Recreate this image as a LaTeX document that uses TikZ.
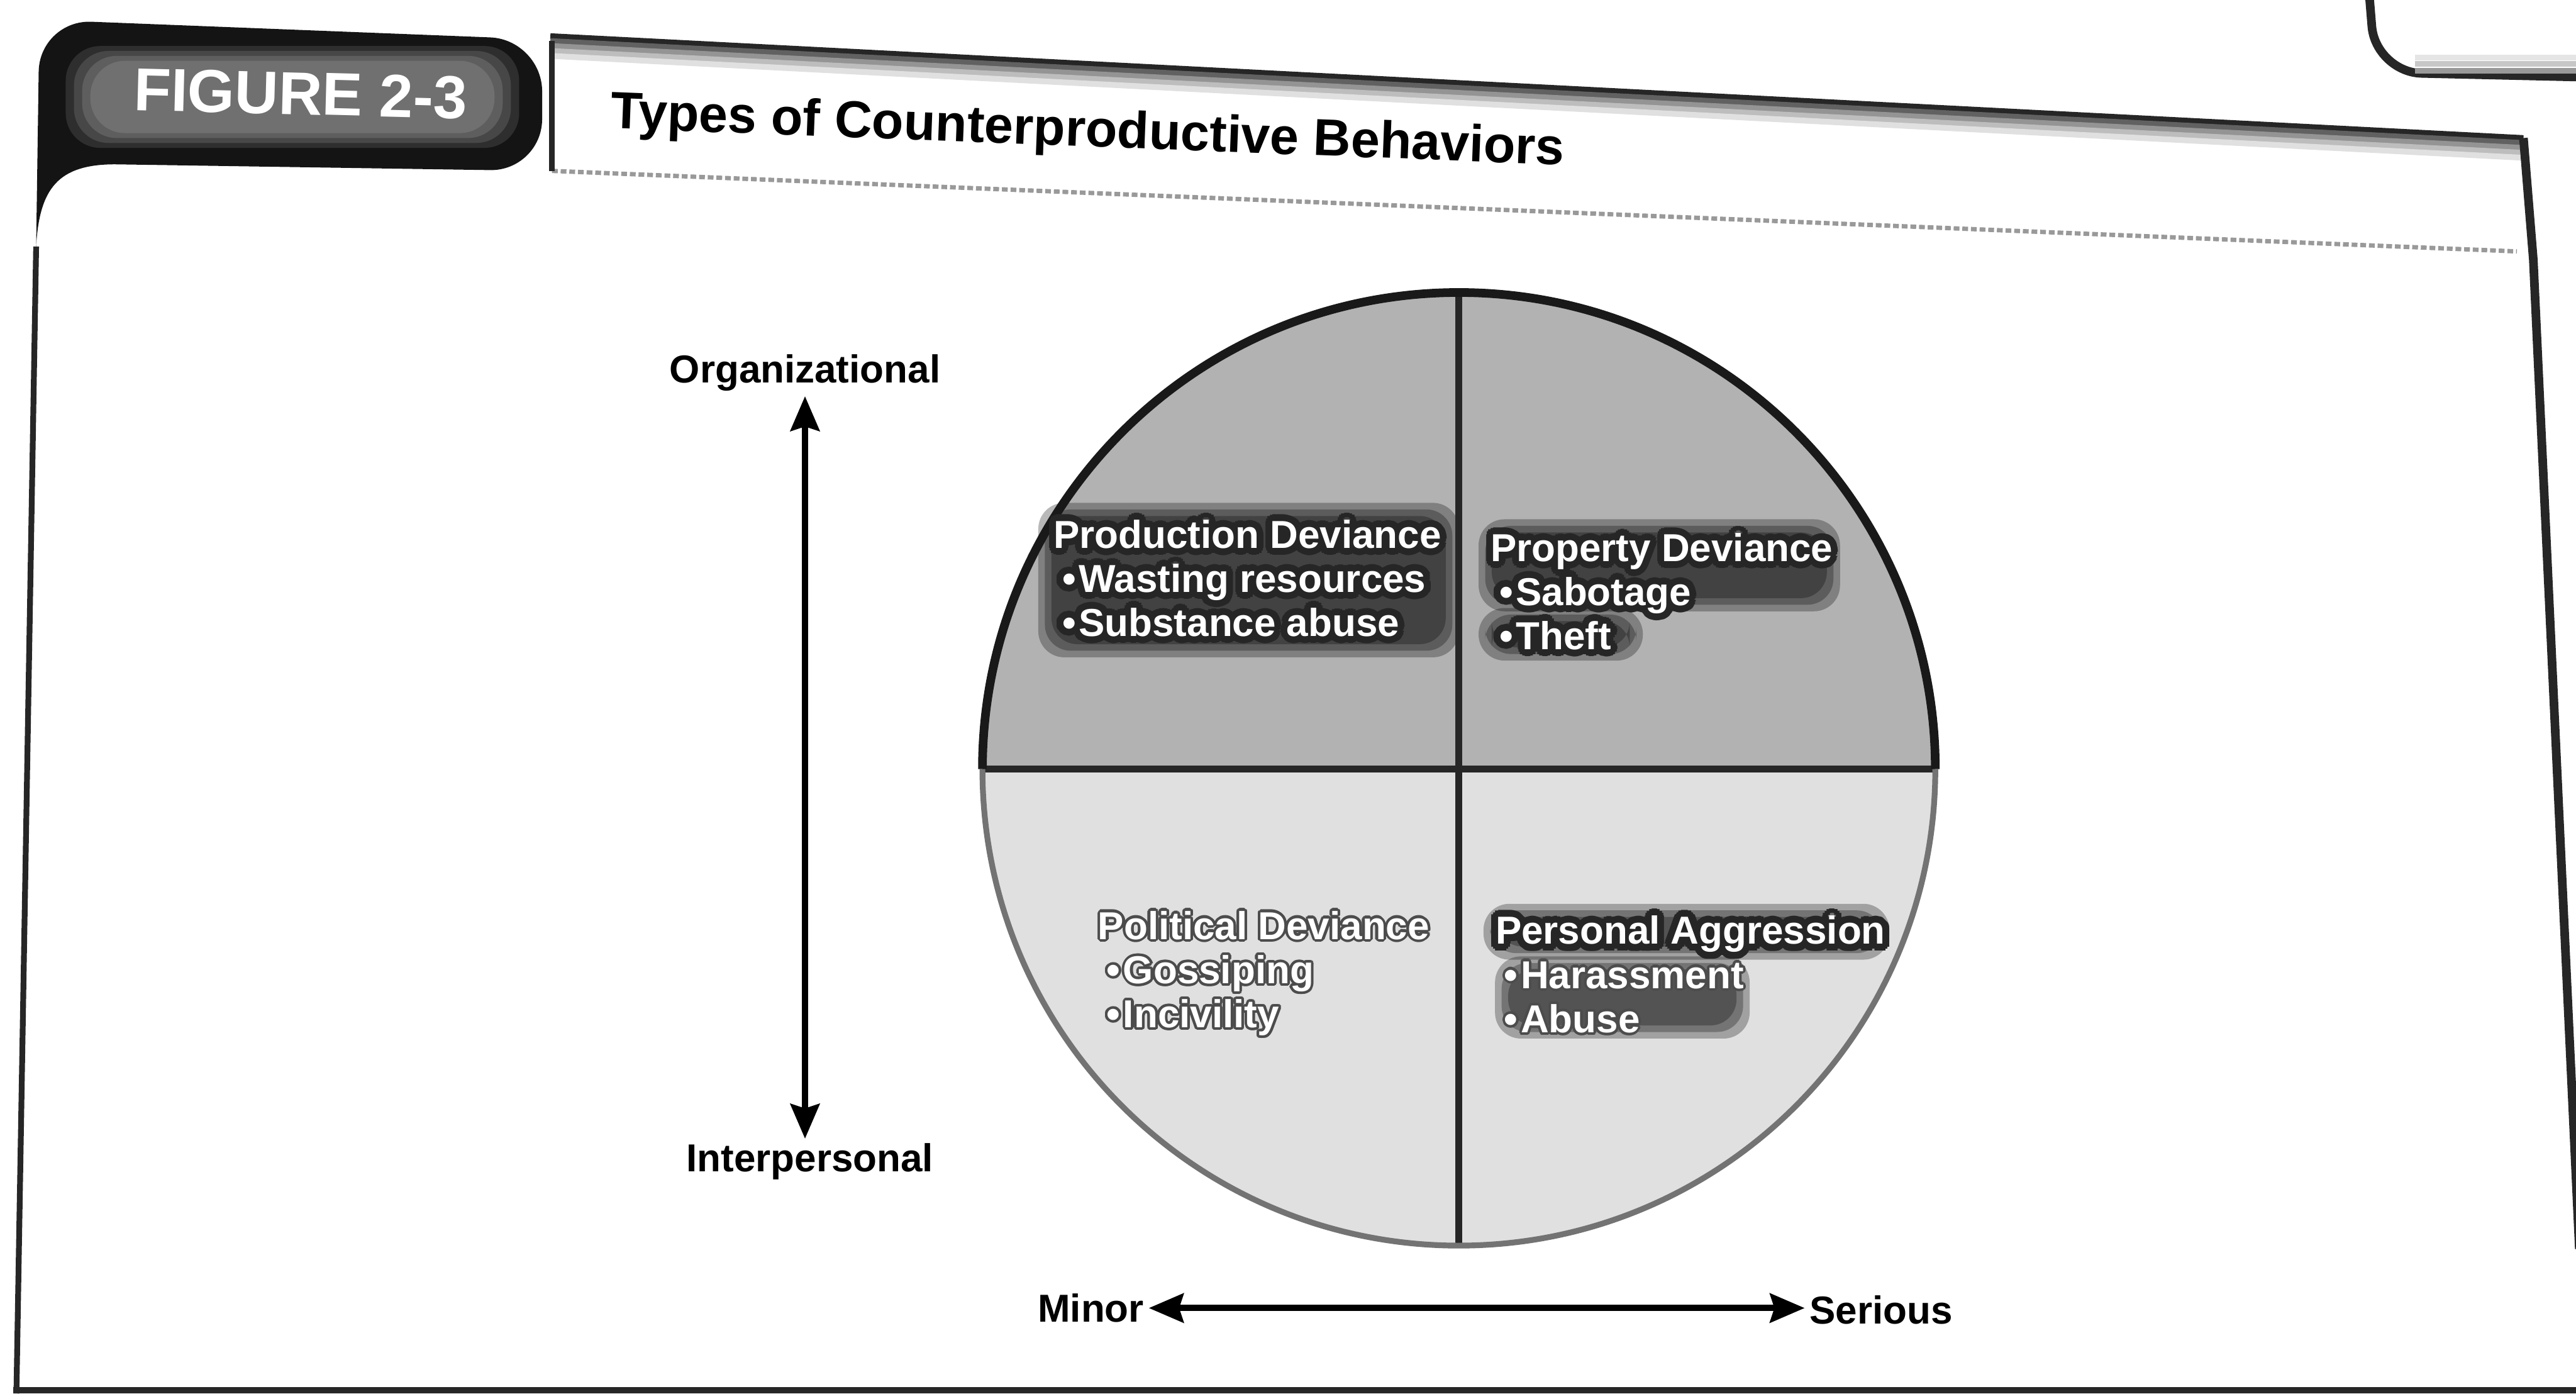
\documentclass[tikz,border=0pt]{standalone}
\usepackage{fontspec}
\setmainfont{Liberation Sans}
\usepackage{contour}
\usetikzlibrary{arrows.meta}

% disc colours
\colorlet{discup}{black!30}
\colorlet{rimup}{black!62}
\colorlet{disclow}{black!12}
\colorlet{rimlow}{black!34}
\pgfdeclareradialshading{upperdisc}{\pgfpoint{0bp}{0bp}}{color(0bp)=(discup); color(34bp)=(discup); color(50bp)=(rimup)}
\pgfdeclareradialshading{lowerdisc}{\pgfpoint{0bp}{0bp}}{color(0bp)=(disclow); color(38bp)=(disclow); color(50bp)=(rimlow)}

% white labels with a dark halo
\newcommand{\darkhalo}[1]{\contourlength{2.4pt}\contour{black!85}{#1}}
\newcommand{\lighthalo}[1]{\contourlength{0.9pt}\contour{black!70}{#1}}
\newcommand{\bul}{\hspace{3pt}\textbullet\hspace{1pt}}

\tikzset{
  figtab/.style={text=white, font=\fontsize{21}{24}\selectfont\bfseries, inner sep=0pt},
  titletext/.style={font=\fontsize{18}{21}\selectfont\bfseries, inner sep=0pt},
  axislabel/.style={font=\fontsize{13.5}{16}\selectfont\bfseries, inner sep=1.5pt},
  axisarrow/.style={{Stealth[length=12pt,width=10pt,inset=1.5pt]}-{Stealth[length=12pt,width=10pt,inset=1.5pt]}, line width=2.2pt},
  quadtext/.style={anchor=north west, inner sep=0pt, align=left, text=white,
    font=\fontsize{13.5}{15.3}\selectfont\bfseries},
  divider/.style={line width=2.4pt, black!85},
  rimtop/.style={line width=3pt, black!90},
  rimbottom/.style={line width=2pt, black!55},
  frame/.style={line width=2pt, black!85},
}

\begin{document}
\begin{tikzpicture}[x=0.02cm,y=-0.02cm]
\useasboundingbox (0,0) rectangle (1568,848);
\fill[white] (0,0) rectangle (1568,848);

% tab with the figure number
\fill[black!92] (22,150) [rounded corners=18pt] -- (24,12) -- (330,24) -- (330,104)
  [sharp corners] -- (70,100) .. controls (35,100) and (24,115) .. (22,150) -- cycle;
\foreach \i/\s in {0/82,5/72,10/63,15/56}
  \fill[black!\s, rounded corners=12pt] (40+\i,28+\i*0.6) rectangle (316-\i,90-\i*0.6);
\node[figtab, rotate=-1.5] (fig) at (183,57) {FIGURE 2-3};

% title band
\foreach \d/\s in {0/85,3/62,6/42,9/26,12/12}
  \draw[black!\s, line width=2pt] (335,22+\d) -- (1536,84+\d);
\draw[black!40, line width=1.5pt, dash pattern=on 2pt off 1pt] (336,104) -- (1532,153);
\draw[frame] (336,25) -- (336,104);
\node[titletext, rotate=-2.2] (title) at (662,81) {Types of Counterproductive Behaviors};

% panel border
\draw[frame] (22,150) -- (10,848);
\draw[frame] (8,846) -- (1568,846);
\draw[line width=3pt, black!85, line join=round] (1536,84) -- (1542,158) -- (1570,760);

% corner of the next box
\draw[line width=3pt, black!85, rounded corners=16pt] (1442,-5) -- (1446,44) -- (1575,47);
\foreach \d/\s in {4/40,8/22,12/10}
  \draw[black!\s, line width=2pt] (1470,47-\d) -- (1575,47-\d);

% the disc
\coordinate (c) at (888,468);
\begin{scope}
  \clip (590,170) rectangle (1190,468);
  \shade[shading=upperdisc] (c) circle (290);
\end{scope}
\begin{scope}
  \clip (590,468) rectangle (1190,770);
  \shade[shading=lowerdisc] (c) circle (290);
\end{scope}

% smudges behind the white labels
\foreach \xa/\ya/\xb/\yb in {632/306/888/400, 900/316/1120/372, 900/370/1000/402, 903/550/1150/584, 910/582/1065/632}
  \foreach \i in {0,4,8}
    \fill[black, opacity=0.28, rounded corners=9pt] (\xa+\i,\ya+\i) rectangle (\xb-\i,\yb-\i);

\draw[divider] (c) ++(0,-290) -- ++(0,580);
\draw[divider] (c) ++(-290,0) -- ++(580,0);
\draw[rimtop] (c) ++(-290,0) arc[start angle=180, end angle=360, radius=290];
\draw[rimbottom] (c) ++(290,0) arc[start angle=0, end angle=180, radius=290];

% quadrant labels
\node[quadtext] (prod) at (641,316) {\darkhalo{Production Deviance}\\
  \darkhalo{\bul Wasting resources}\\
  \darkhalo{\bul Substance abuse}};
\node[quadtext] (prop) at (907,324) {\darkhalo{Property Deviance}\\
  \darkhalo{\bul Sabotage}\\
  \darkhalo{\bul Theft}};
\node[quadtext] (poli) at (668,554) {\lighthalo{Political Deviance}\\
  \lighthalo{\bul Gossiping}\\
  \lighthalo{\bul Incivility}};
\node[quadtext] (pers) at (910,557) {\darkhalo{Personal Aggression}\\
  \lighthalo{\bul Harassment}\\
  \lighthalo{\bul Abuse}};

% axes
\node[axislabel] (org) at (490,227) {Organizational};
\node[axislabel] (inter) at (493,707) {Interpersonal};
\draw[axisarrow] (org.south) -- (org.south |- inter.north);

\node[axislabel] (minor) at (664,796) {Minor};
\node[axislabel] (serious) at (1145,797) {Serious};
\draw[axisarrow] (minor.east) -- (minor.east -| serious.west);
\end{tikzpicture}
\end{document}
